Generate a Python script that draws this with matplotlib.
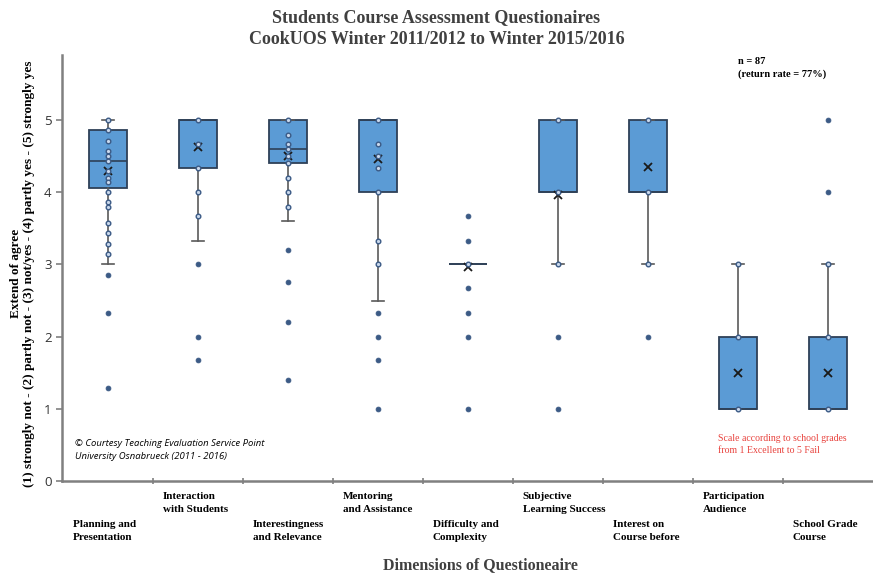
"""
Box plots of the CookUOS course assessment questionnaires (2011-2016)
"""

import matplotlib
matplotlib.use('Agg')
import matplotlib.pyplot as plt

# Questionnaire dimensions (two text lines each)
categories = [
    'Planning and\nPresentation',
    'Interaction\nwith Students',
    'Interestingness\nand Relevance',
    'Mentoring\nand Assistance',
    'Difficulty and\nComplexity',
    'Subjective\nLearning Success',
    'Interest on\nCourse before',
    'Participation\nAudience',
    'School Grade\nCourse',
]

# Box statistics per dimension
q1 = [4.06, 4.33, 4.4, 4.0, 3.0, 4.0, 4.0, 1.0, 1.0]
medians = [4.43, 5.0, 4.6, 5.0, 3.0, 4.0, 4.0, 1.0, 1.0]
q3 = [4.86, 5.0, 5.0, 5.0, 3.0, 5.0, 5.0, 2.0, 2.0]
whisker_low = [3.0, 3.33, 3.6, 2.5, 3.0, 3.0, 3.0, 1.0, 1.0]
whisker_high = [5.0, 5.0, 5.0, 5.0, 3.0, 5.0, 5.0, 3.0, 3.0]
means = [4.29, 4.63, 4.5, 4.46, 2.97, 3.96, 4.35, 1.5, 1.5]

# Inner points (inside whisker range) and outliers
inner_points = [
    [5.0, 4.86, 4.71, 4.57, 4.5, 4.43, 4.29, 4.2, 4.14, 4.0, 3.86, 3.8,
     3.57, 3.43, 3.29, 3.14],
    [5.0, 4.67, 4.33, 4.0, 3.67],
    [5.0, 4.8, 4.67, 4.6, 4.5, 4.4, 4.2, 4.0, 3.8],
    [5.0, 4.67, 4.5, 4.33, 4.0, 3.33, 3.0],
    [3.0],
    [5.0, 4.0, 3.0],
    [5.0, 4.0, 3.0],
    [1.0, 2.0, 3.0],
    [1.0, 2.0, 3.0],
]
outliers = [
    [2.86, 2.33, 1.29],
    [3.0, 2.0, 1.67],
    [3.2, 2.75, 2.2, 1.4],
    [2.33, 2.0, 1.67, 1.0],
    [3.67, 3.33, 2.67, 2.33, 2.0, 1.0],
    [2.0, 1.0],
    [2.0],
    [],
    [5.0, 4.0],
]

yticks = [0, 1, 2, 3, 4, 5]

box_color = '#5b9bd5'
edge_color = '#2e4057'
point_color = '#3b5a85'
serif = 'Liberation Serif'

fig = plt.figure(figsize=(8.73, 5.74), dpi=100)
ax = fig.add_axes([0.071, 0.162, 0.929, 0.742])

positions = list(range(1, len(categories) + 1))
stats = []
for i in range(len(categories)):
    stats.append({
        'med': medians[i], 'q1': q1[i], 'q3': q3[i],
        'whislo': whisker_low[i], 'whishi': whisker_high[i],
        'mean': means[i],
    })

ax.bxp(stats, positions=positions, widths=0.43, capwidths=0.14,
       showfliers=False, showmeans=True, patch_artist=True,
       boxprops=dict(facecolor=box_color, edgecolor=edge_color, linewidth=1.3),
       medianprops=dict(color=edge_color, linewidth=1.2),
       whiskerprops=dict(color='#5a5a5a', linewidth=1.2),
       capprops=dict(color='#5a5a5a', linewidth=1.2),
       meanprops=dict(marker='x', markeredgecolor='#1a1a1a',
                      markersize=6, markeredgewidth=1.3))

# Individual points
for pos, pts in zip(positions, inner_points):
    ax.scatter([pos] * len(pts), pts, s=11, facecolor='#c9d8ec',
               edgecolor=point_color, linewidth=1.0, zorder=4)
for pos, pts in zip(positions, outliers):
    ax.scatter([pos] * len(pts), pts, s=12, facecolor=point_color,
               edgecolor=point_color, linewidth=0.6, zorder=4)

ax.set_xlim(0.49, 9.5)
ax.set_ylim(0, 5.9)
ax.set_yticks(yticks)
ax.set_yticklabels([str(t) for t in yticks], fontsize=9.5, color='#333333',
                   family='Open Sans')
ax.set_xticks([p + 0.5 for p in positions[:-1]])
ax.set_xticklabels([])
ax.tick_params(axis='y', direction='out', length=4, color='#808080', width=1.2)
ax.tick_params(axis='x', direction='inout', length=5, color='#808080', width=1.2)
for side in ['top', 'right']:
    ax.spines[side].set_visible(False)
for side in ['left', 'bottom']:
    ax.spines[side].set_color('#808080')
    ax.spines[side].set_linewidth(1.8)

# Category labels, staggered on two rows
for pos, label in zip(positions, categories):
    y = 0.143 if pos % 2 == 0 else 0.094
    x_fig = 0.071 + 0.929 * (pos - 0.39 - 0.49) / (9.5 - 0.49)
    fig.text(x_fig, y, label, ha='left', va='top', fontsize=8,
             fontweight='bold', family=serif, linespacing=1.55)

# Titles
fig.text(0.5, 0.985, 'Students Course Assessment Questionaires\n'
         'CookUOS Winter 2011/2012 to Winter 2015/2016',
         ha='center', va='top', fontsize=13, fontweight='bold',
         family=serif, color='#404040', linespacing=1.45)
fig.text(0.55, 0.016, 'Dimensions of Questioneaire', ha='center',
         va='center', fontsize=11.5, fontweight='bold', family=serif,
         color='#404040')
fig.text(0.026, 0.523, 'Extend of agree\n(1) strongly not - (2) partly not - '
         '(3) not/yes - (4) partly yes - (5) strongly yes',
         ha='center', va='center', rotation=90, fontsize=9.5,
         fontweight='bold', family=serif, linespacing=1.1)

# Annotations
ax.text(0.834, 0.995, 'n = 87\n(return rate = 77%)', transform=ax.transAxes,
        ha='left', va='top', fontsize=7.5, fontweight='bold', family=serif,
        linespacing=1.45)
fig.text(0.823, 0.207, 'Scale according to school grades\n'
         'from 1 Excellent to 5 Fail', ha='left', va='bottom', fontsize=7,
         family=serif, color='#e8413c', linespacing=1.45)
fig.text(0.086, 0.197, '\u00a9 Courtesy Teaching Evaluation Service Point\n'
         'University Osnabrueck (2011 - 2016)', ha='left', va='bottom',
         fontsize=6.8, style='italic', family='Open Sans', linespacing=1.55)

plt.savefig('out.png', dpi=100)
